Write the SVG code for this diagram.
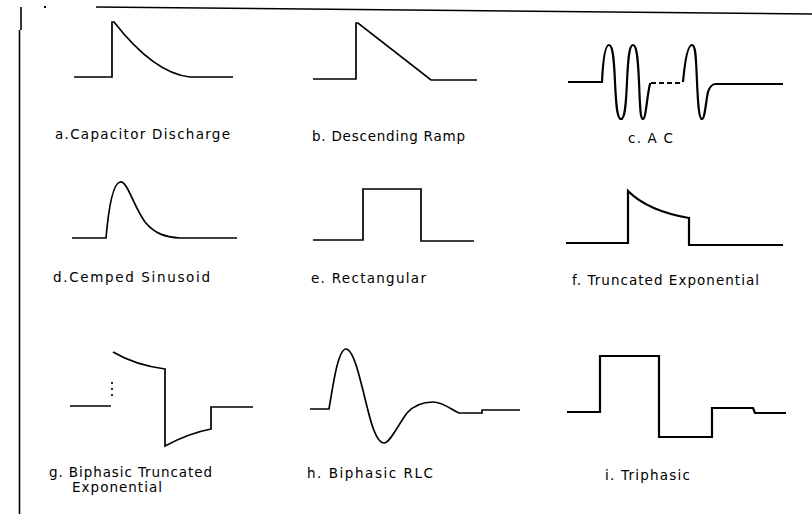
<svg xmlns="http://www.w3.org/2000/svg" width="812" height="514" viewBox="0 0 812 514">
<style>
.w{fill:none;stroke:#000;stroke-width:1.7;stroke-linejoin:miter}
.wt{fill:none;stroke:#000;stroke-width:2.2}
.lbl{font-family:"DejaVu Sans","Liberation Sans",sans-serif;font-size:13.5px;fill:#000}
.frame{fill:none;stroke:#000;stroke-width:1.6}
</style>
<rect width="812" height="514" fill="#fff"/>
<g id="frame">
<path class="frame" d="M96,7 L812,14"/>
<path class="frame" d="M19.5,30 V514"/>
<path class="frame" d="M21,7 V30"/>
<rect x="44" y="6" width="2" height="2" fill="#000"/>
</g>
<g id="a">
<path class="w" d="M74,77 H112 V22 L114,22 C132,45 160,74 190,77 H233"/>
<text class="lbl" x="55" y="139" textLength="175" lengthAdjust="spacing">a.Capacitor Discharge</text>
</g>
<g id="b">
<path class="w" d="M313,79 H356 V23 L358,23 L431,80 H477"/>
<text class="lbl" x="312" y="141" textLength="153" lengthAdjust="spacing">b. Descending Ramp</text>
</g>
<g id="c">
<path class="wt" d="M568,82 H602 C603,60 605,45 609,45 C613,45 614,60 615,82 C616,104 617,119 621,119 C625,119 626,104 627,82 C628,60 629,45 633,45 C637,45 638,60 639,82 C640,104 640,119 643,119 C646,119 647,95 650,84 H651"/>
<path class="wt" d="M651,83 H683" stroke-dasharray="5,3"/>
<path class="wt" d="M683,82 C685,60 688,45 692,45 C696,45 696,60 697,82 C698,104 699,119 702,119 C705,119 706,100 708,92 C710,86 712,84 716,84 H783"/>
<text class="lbl" x="628" y="143" textLength="45" lengthAdjust="spacing">c. A C</text>
</g>
<g id="d">
<path class="w" d="M72,238 H106 C108,215 112,184 120,182 C127,180 133,205 145,222 C155,234 165,237 180,238 H237"/>
<text class="lbl" x="53" y="282" textLength="157" lengthAdjust="spacing">d.Cemped Sinusoid</text>
</g>
<g id="e">
<path class="w" d="M313,240 H363 V189 H421 V241 H474"/>
<text class="lbl" x="311" y="283" textLength="115" lengthAdjust="spacing">e. Rectangular</text>
</g>
<g id="f">
<path class="wt" d="M566,243 H628 V191 C640,203 660,213 689,218 V245 H783"/>
<text class="lbl" x="572" y="285" textLength="187" lengthAdjust="spacing">f. Truncated Exponential</text>
</g>
<g id="g">
<path class="w" d="M70,406 H111"/>
<path class="w" d="M112,382 V396" stroke-dasharray="2,4"/>
<path class="w" d="M113,352 C130,362 150,367 165,369 V446 C180,438 195,432 211,429 V407 H253"/>
<text class="lbl" x="49" y="477" textLength="163" lengthAdjust="spacing">g. Biphasic Truncated</text>
<text class="lbl" x="72" y="492" textLength="90" lengthAdjust="spacing">Exponential</text>
</g>
<g id="h">
<path class="w" d="M310,409 H329 C333,385 338,349 346,349 C356,349 364,400 372,425 C377,440 381,443 384,443 C390,443 398,425 407,413 C415,404 425,402 433,402 C443,402 452,410 459,413 H482 V410 H520"/>
<text class="lbl" x="307" y="478" textLength="126" lengthAdjust="spacing">h. Biphasic RLC</text>
</g>
<g id="i">
<path class="wt" d="M567,412 H600 V356 H659 V437 H712 V408 H753 L755,413 H786"/>
<text class="lbl" x="605" y="480" textLength="85" lengthAdjust="spacing">i. Triphasic</text>
</g>
</svg>
